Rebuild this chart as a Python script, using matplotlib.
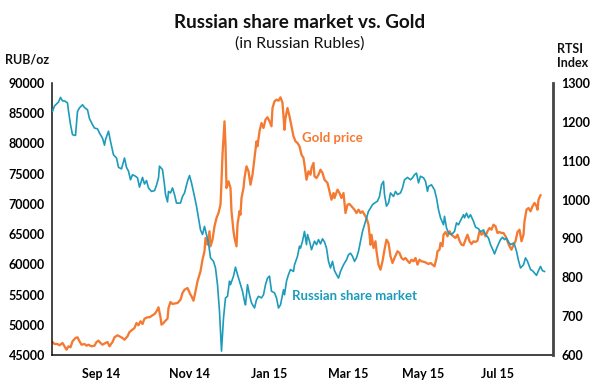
import matplotlib
matplotlib.use("Agg")
import matplotlib.pyplot as plt

plt.rcParams['font.family'] = ['Lato', 'DejaVu Sans']

# ---- data (x = trading-session index from start of Aug 2014) ----
rtsi_session = [0, 1, 3, 4, 5, 6, 7.5, 8, 9, 10, 11.5, 12.5, 13.5, 15, 16, 17.5, 18.5, 20, 21, 22.5,
                23.5, 25, 26, 26.5, 28, 29, 30.5, 32, 33, 34.5, 36, 37, 38, 39, 40, 41.5, 42.5, 43.5, 45, 46,
                47, 48, 49.5, 51, 52, 53, 53.5, 55, 56, 56.5, 57.5, 58, 59, 60, 61, 62, 64, 65, 66, 67.5,
                68.5, 69.5, 71, 72, 73, 74, 75, 76, 77, 78, 79, 80.5, 81.5, 82.5, 83.5, 84.5, 85.5, 86.5, 87.5, 88.5,
                89, 90.5, 91.5, 92.5, 94, 95, 96, 96.5, 97.5, 98.5, 99.5, 101, 102, 103, 104.5, 105.5, 106.5, 107.5,
                108.5, 109.5, 111, 112, 113, 114, 115.5, 116, 117, 118, 119, 120.5, 121, 122.5, 123.5, 124, 125, 126,
                127, 127.5, 128.5, 129.5, 131, 132, 133, 134, 135, 136, 137, 138, 139, 140, 141, 142, 143, 144,
                145.5, 147, 148, 149, 150, 151, 152, 153, 154, 155, 156, 157, 158, 159, 160, 161, 162.5, 163.5,
                164.5, 165.5, 166, 167, 168, 169, 170.5, 171.5, 172.5, 174, 175, 176, 177.5, 179, 180, 181, 182, 183,
                184, 185.5, 186.5, 187.5, 188, 189.5, 191, 192, 193, 194, 195.5, 196, 197, 198, 199.5, 201, 202, 203,
                204, 205.5, 206, 207, 208, 209, 210.5, 211.5, 213, 214, 215.5, 216.5, 218, 219, 220.5, 221, 222.5, 224,
                225, 226, 227, 228, 229, 230.5, 231, 232, 233, 234, 235.5, 236.5, 237.5, 239, 240, 241, 242, 243,
                244, 245, 246]
rtsi_index = [1227, 1241, 1251, 1263, 1254, 1254, 1249, 1228, 1193, 1167, 1165, 1227, 1236, 1244, 1237, 1231, 1208, 1193, 1184, 1182,
              1171, 1158, 1140, 1154, 1176, 1150, 1115, 1107, 1083, 1079, 1107, 1083, 1073, 1051, 1064, 1060, 1056, 1032, 1057, 1040,
              1049, 1030, 1021, 1023, 1037, 1056, 1086, 1077, 1038, 1013, 994, 1021, 1017, 1030, 1013, 991, 991, 1008, 1017, 1047,
              1062, 1043, 1008, 983, 953, 922, 910, 931, 910, 888, 850, 841, 824, 781, 712, 610, 695, 747, 751, 790,
              781, 803, 826, 807, 781, 764, 738, 729, 781, 755, 734, 721, 742, 751, 747, 755, 781, 798,
              803, 764, 760, 747, 721, 729, 768, 755, 790, 807, 820, 815, 832, 854, 880, 875, 893, 918,
              884, 910, 893, 871, 893, 884, 897, 886, 899, 891, 875, 841, 824, 841, 817, 807, 798, 815,
              832, 845, 858, 862, 854, 841, 850, 867, 893, 918, 935, 953, 970, 978, 987, 991, 996, 1008,
              1038, 1047, 1013, 983, 991, 1017, 1008, 1021, 1013, 1017, 1030, 1051, 1057, 1051, 1056, 1064, 1068, 1043,
              1060, 1056, 1047, 1021, 1034, 1038, 1025, 1004, 974, 953, 935, 957, 927, 914, 910, 918, 940, 935,
              946, 961, 953, 965, 953, 961, 944, 929, 925, 917, 922, 910, 901, 884, 867, 860, 880, 897,
              903, 897, 901, 891, 884, 888, 884, 867, 843, 824, 832, 850, 841, 820, 817, 811, 805, 817,
              828, 817, 815]

gold_session = [0, 1, 2.5, 3.5, 5, 6, 7, 8, 9, 10, 11.5, 12.5, 13.5, 14.5, 16, 17, 18, 19.5, 21, 22,
                23, 24, 25, 26.5, 27.5, 28.5, 30, 31, 32.5, 33.5, 35, 36, 37.5, 38.5, 40, 41, 42, 43, 44, 45,
                46, 47.5, 48.5, 50, 51, 52, 53, 54, 54.5, 55.5, 56.5, 57.5, 58, 59, 60, 61.5, 62.5, 64, 65, 66,
                67.5, 69, 69.5, 70.5, 71.5, 72.5, 74, 75, 76, 76.5, 77.5, 78.5, 79, 80, 81, 82, 83, 84, 84.5, 85,
                86, 86.5, 87, 88, 89, 89.5, 90.5, 91, 92, 92.5, 93.5, 94, 94.5, 95.5, 96, 97, 98, 99, 100, 101,
                102, 102.5, 103.5, 104.5, 105.5, 106.5, 107.5, 108.5, 109.5, 110, 111, 112, 113, 114, 115, 116, 116.5, 117.5, 118.5, 119.5,
                120.5, 121.5, 122.5, 123.5, 124.5, 125.5, 126, 127, 128, 129, 129.5, 130.5, 131, 132, 133, 134, 135, 136, 137.5, 138.5,
                139.5, 140.5, 141, 142.5, 143.5, 144.5, 145.5, 146.5, 147.5, 148.5, 149.5, 151, 152, 153, 154, 155, 156, 157, 158, 159,
                159.5, 160.5, 161.5, 162, 163, 164, 165, 166, 167, 168, 169, 170, 171, 172.5, 173.5, 174.5, 175.5, 176.5, 177.5, 178.5,
                179.5, 180.5, 181.5, 182.5, 183.5, 184.5, 186, 187, 188, 189, 190, 191, 192, 192.5, 193.5, 194, 195, 195.5, 196.5, 197.5,
                198.5, 199.5, 200.5, 201.5, 202.5, 203.5, 204.5, 205.5, 206.5, 207.5, 208.5, 209.5, 210.5, 211.5, 212.5, 213.5, 214.5, 215.5, 216.5, 217.5,
                218.5, 219.5, 220.5, 221.5, 222.5, 223.5, 224.5, 225.5, 226.5, 227.5, 228.5, 229.5, 230.5, 231.5, 232.5, 233.5, 234.5, 235.5, 236, 237,
                238, 239, 240, 241, 242, 242.5, 243, 244]
gold_price = [47150, 46820, 46820, 46600, 46990, 46440, 45880, 46440, 46270, 47270, 47810, 47930, 47270, 46700, 46820, 46540, 46700, 46440, 46540, 47150,
              47370, 46990, 46700, 46990, 47150, 46440, 47150, 47930, 48260, 48090, 47810, 47530, 48090, 48800, 49190, 49470, 50290, 49920, 50580, 50130,
              51010, 51240, 51240, 51570, 51780, 52230, 52890, 51240, 50010, 50290, 50670, 51010, 52780, 53770, 53440, 53550, 53600, 54150, 55260, 55800,
              56080, 54980, 54710, 53980, 55540, 57190, 58850, 60770, 62160, 64360, 63250, 65470, 62980, 64080, 66290, 67670, 68490, 69870, 73740, 78140,
              83660, 79790, 72630, 73740, 72630, 68770, 65470, 64360, 62980, 66560, 68770, 68210, 70970, 72630, 74280, 76220, 75390, 73170, 74830, 77590,
              80350, 79530, 82010, 83380, 82560, 83930, 84330, 83660, 82840, 85860, 86970, 87240, 87070, 87630, 86690, 82270, 84210, 85860, 84490, 82840,
              81180, 80350, 80070, 79530, 78140, 77590, 76480, 74000, 75390, 74830, 75940, 76770, 74560, 74280, 74830, 75660, 75110, 74000, 73460, 72080,
              70690, 71800, 70970, 72350, 71800, 70970, 71800, 68490, 69870, 69980, 69600, 69040, 68490, 69040, 68490, 68770, 68210, 67670, 66560, 63250,
              64900, 62700, 63810, 62160, 59940, 59110, 60500, 62420, 64080, 63530, 61330, 60220, 61050, 62160, 61880, 61050, 60770, 61050, 60600, 60220,
              60770, 60500, 61050, 59940, 60770, 60500, 60390, 60220, 60060, 60220, 59940, 59670, 61050, 62160, 62420, 63530, 62980, 64900, 65350, 64640,
              65470, 64900, 64640, 64360, 64900, 63910, 63250, 63150, 64080, 64900, 63810, 63360, 63810, 63700, 63910, 65470, 64900, 65350, 64640, 65470,
              66010, 65730, 66560, 66290, 65180, 65350, 65180, 65180, 64640, 63810, 62980, 62420, 63250, 63810, 65350, 65730, 63810, 64900, 67120, 69040,
              69320, 68770, 69600, 70150, 69600, 69040, 70690, 71420]

month_tick_session = [24.25, 68.75, 108.25, 147.75, 185.25, 222.75]
month_tick_labels = ['Sep 14', 'Nov 14', 'Jan 15', 'Mar 15', 'May 15', 'Jul 15']
gold_ticks = list(range(45000, 90001, 5000))
rtsi_ticks = list(range(600, 1301, 100))

ORANGE = '#F47A32'
TEAL = '#1C9BBA'

fig = plt.figure(figsize=(6.0, 3.87), dpi=100)
ax = fig.add_axes([52 / 600, 1 - 355 / 387, 501 / 600, 272 / 387])
ax2 = ax.twinx()

ax.plot(gold_session, gold_price, color=ORANGE, lw=1.65, solid_joinstyle='round')
ax2.plot(rtsi_session, rtsi_index, color=TEAL, lw=1.2, solid_joinstyle='round')

ax.set_xlim(-0.25, 250.25)
ax.set_ylim(45000, 90000)
ax2.set_ylim(600, 1300)

ax.set_yticks(gold_ticks)
ax.set_yticklabels([str(v) for v in gold_ticks], fontweight='bold', fontsize=9)
ax2.set_yticks(rtsi_ticks)
ax2.set_yticklabels([str(v) for v in rtsi_ticks], fontweight='bold', fontsize=9)
ax.set_xticks(month_tick_session)
ax.set_xticklabels(month_tick_labels, fontweight='bold', fontsize=9)

ax.tick_params(axis='y', length=0, pad=5)
ax.tick_params(axis='x', length=0, pad=9)
ax2.tick_params(axis='y', length=0, pad=6)

for a in (ax, ax2):
    a.spines['top'].set_visible(False)
ax2.spines['left'].set_visible(False)
ax2.spines['bottom'].set_visible(False)
ax.spines['right'].set_visible(False)
ax.spines['left'].set_color('#111111')
ax.spines['left'].set_linewidth(1.1)
ax.spines['bottom'].set_color('#111111')
ax.spines['bottom'].set_linewidth(1.1)
ax2.spines['right'].set_color('#444444')
ax2.spines['right'].set_linewidth(2.0)

# series labels
ax.text(125, 80900, 'Gold price', color=ORANGE, fontsize=9.5, fontweight='bold', va='center', ha='left')
ax.text(120, 54760, 'Russian share market', color=TEAL, fontsize=9.5, fontweight='bold', va='center', ha='left')

# titles and axis captions
fig.text(0.5, 1 - 22 / 387, 'Russian share market vs. Gold', ha='center', va='center',
         fontsize=13.6, fontweight='bold', color='#111111')
fig.text(0.5, 1 - 44 / 387, '(in Russian Rubles)', ha='center', va='center', fontsize=11.4, color='#111111')
fig.text(5 / 600, 1 - 60 / 387, 'RUB/oz', ha='left', va='center', fontsize=9, fontweight='bold', color='#111111')
fig.text(557 / 600, 1 - 56 / 387, 'RTSI\nIndex', ha='left', va='center', fontsize=9, fontweight='bold',
         color='#111111', linespacing=1.25)

fig.savefig('out.png', dpi=100)
